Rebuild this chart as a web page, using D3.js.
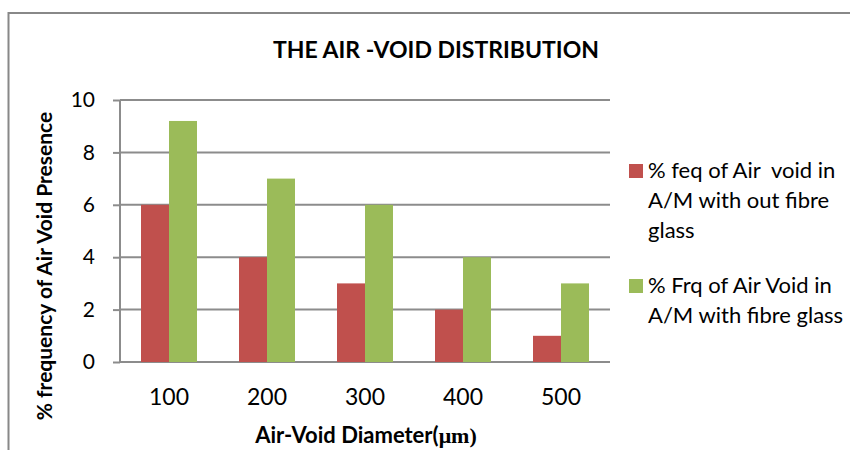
<!DOCTYPE html>
<html>
<head>
<meta charset="utf-8">
<script src="https://cdn.jsdelivr.net/npm/d3@7"></script>
<style>
    body { margin: 0; background: #fff; }
    svg { display: block; font-family: Lato, "Open Sans", sans-serif; }
</style>
</head>
<body>
<div id="chart"></div>
<script>
const categories = ['100', '200', '300', '400', '500'];
const seriesNames = [
    '% feq of Air  void in A/M with out fibre glass',
    '% Frq of Air Void in A/M with fibre glass'
];
const withoutFibre = [6, 4, 3, 2, 1];
const withFibre = [9.2, 7, 6, 4, 3];
const yTicks = [0, 2, 4, 6, 8, 10];

const width = 850;
const height = 450;
const margin = { top: 100, right: 240, bottom: 88, left: 120 };
const colorSchema = ['#C0504D', '#9BBB59'];
const gridColor = '#8c8c8c';

let svg;
let xScale;
let xSeries;
let yScale;

function buildSVG() {
    svg = d3.select('#chart')
      .append('svg')
        .attr('width', width)
        .attr('height', height);

    // outer chart frame (only left and top edges are in view)
    svg.append('path')
        .attr('d', `M8.5,${height} V13 H${width}`)
        .attr('fill', 'none')
        .attr('stroke', '#888')
        .attr('stroke-width', 2);
}

function buildScales() {
    xScale = d3.scaleBand()
        .domain(categories)
        .range([margin.left, width - margin.right]);

    xSeries = d3.scaleBand()
        .domain(seriesNames)
        .range([0, xScale.bandwidth()])
        .paddingOuter(0.75);

    yScale = d3.scaleLinear()
        .domain([0, 10])
        .range([height - margin.bottom, margin.top]);
}

function drawAxes() {
    let yAxis = svg.append('g')
        .attr('transform', `translate(${margin.left},0)`)
        .call(d3.axisLeft(yScale)
            .tickValues(yTicks)
            .tickSize(7)
            .tickPadding(18));

    yAxis.select('.domain')
        .attr('stroke', gridColor)
        .attr('stroke-width', 2)
        .attr('d', `M0,${yScale(0)}V${yScale(10)}`);
    yAxis.selectAll('.tick line')
        .attr('stroke', gridColor)
        .attr('stroke-width', 2);
    yAxis.selectAll('.tick text')
        .attr('font-family', 'Lato, sans-serif')
        .attr('font-size', 21)
        .attr('fill', '#000');

    // horizontal gridlines
    svg.append('g')
      .selectAll('line')
      .data(yTicks)
      .enter()
      .append('line')
        .attr('x1', margin.left)
        .attr('x2', width - margin.right)
        .attr('y1', d => yScale(d))
        .attr('y2', d => yScale(d))
        .attr('stroke', gridColor)
        .attr('stroke-width', 2);

    svg.append('g')
      .selectAll('text')
      .data(categories)
      .enter()
      .append('text')
        .attr('x', d => xScale(d) + xScale.bandwidth() / 2)
        .attr('y', 405)
        .attr('text-anchor', 'middle')
        .attr('font-size', 23)
        .text(d => d);
}

function drawBars() {
    const series = [withoutFibre, withFibre];

    series.forEach((values, i) => {
        svg.append('g')
            .attr('fill', colorSchema[i])
          .selectAll('rect')
          .data(values)
          .enter()
          .append('rect')
            .attr('x', (d, j) => xScale(categories[j]) + xSeries(seriesNames[i]))
            .attr('y', d => yScale(d))
            .attr('width', xSeries.bandwidth())
            .attr('height', d => yScale(0) - yScale(d));
    });
}

function drawLabels() {
    svg.append('text')
        .attr('x', 436)
        .attr('y', 58)
        .attr('text-anchor', 'middle')
        .attr('font-weight', 'bold')
        .attr('font-size', 23)
        .text('THE AIR -VOID DISTRIBUTION');

    svg.append('text')
        .attr('transform', 'translate(52,266) rotate(-90)')
        .attr('text-anchor', 'middle')
        .attr('font-weight', 'bold')
        .attr('font-size', 21)
        .text('% frequency of Air Void Presence');

    let xTitle = svg.append('text')
        .attr('x', 366)
        .attr('y', 443)
        .attr('text-anchor', 'middle')
        .attr('font-weight', 'bold')
        .attr('font-size', 22);
    xTitle.append('tspan').text('Air-Void Diameter(');
    xTitle.append('tspan')
        .attr('font-family', '"Liberation Serif", serif')
        .text('μm)');
}

function drawLegend() {
    const legendLines = [
        ['% feq of Air  void in', 'A/M with out fibre', 'glass'],
        ['% Frq of Air Void in', 'A/M with fibre glass']
    ];
    const legendTops = [164, 279];

    let items = svg.append('g')
      .selectAll('g')
      .data(seriesNames)
      .enter()
      .append('g')
        .attr('transform', (d, i) => `translate(629,${legendTops[i]})`);

    items.append('rect')
        .attr('width', 14)
        .attr('height', 14)
        .attr('fill', (d, i) => colorSchema[i]);

    items.append('text')
        .attr('font-size', 22)
        .attr('xml:space', 'preserve')
      .selectAll('tspan')
      .data((d, i) => legendLines[i])
      .enter()
      .append('tspan')
        .attr('x', 19)
        .attr('y', (d, j) => 14 + j * 30)
        .text(d => d);
}

buildSVG();
buildScales();
drawAxes();
drawBars();
drawLabels();
drawLegend();
</script>
</body>
</html>
